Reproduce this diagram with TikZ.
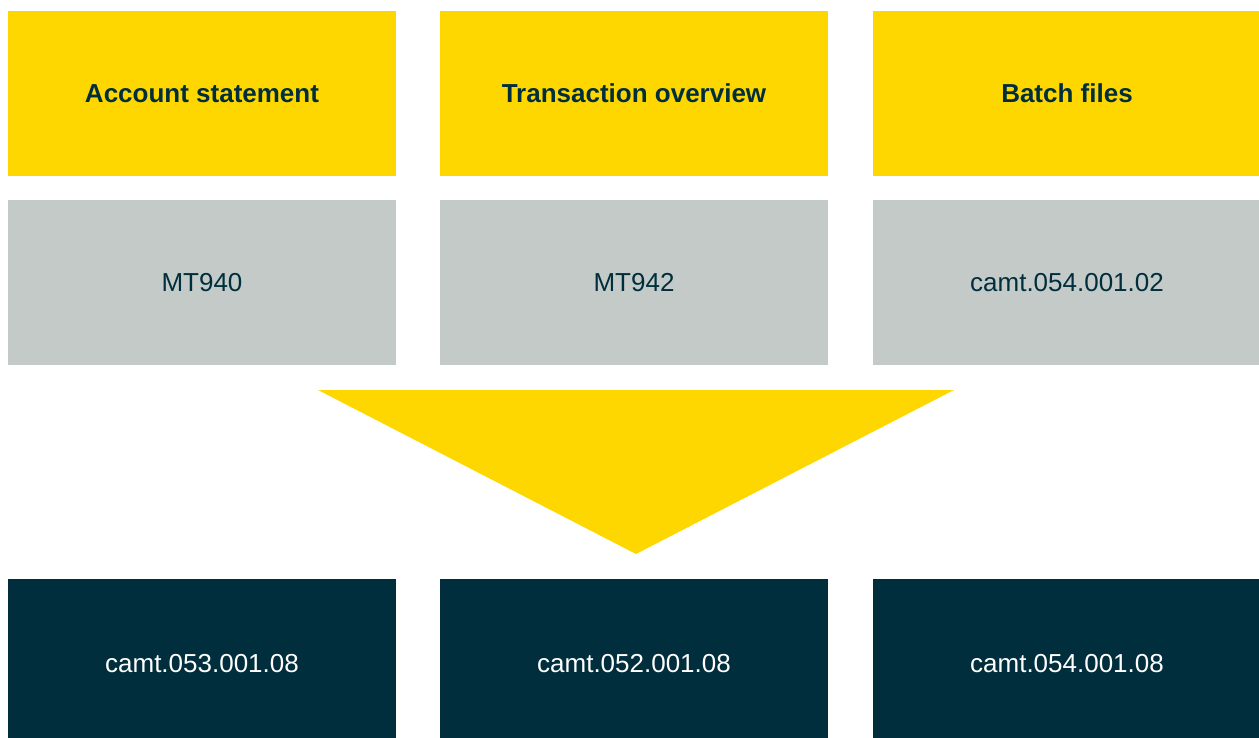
\documentclass[tikz,border=0pt]{standalone}
\usepackage{fontspec}
\setmainfont{Liberation Sans}
\definecolor{ingyellow}{HTML}{FFD700}
\definecolor{inggray}{HTML}{C4CAC8}
\definecolor{ingnavy}{HTML}{002E3D}
\begin{document}
\begin{tikzpicture}[x=1pt,y=-1pt,
  cell/.style={minimum width=388pt,minimum height=165pt,inner sep=0pt,outer sep=0pt,anchor=north west,
    font=\fontsize{26}{30}\selectfont},
  headcell/.style={cell,fill=ingyellow,text=ingnavy,font=\fontsize{26}{30}\selectfont\bfseries},
  oldcell/.style={cell,fill=inggray,text=ingnavy},
  newcell/.style={cell,fill=ingnavy,text=white,minimum height=169pt}]
\useasboundingbox (0,0) rectangle (1259,738);
\node[headcell] (h1) at (8,11) {Account statement};
\node[headcell] (h2) at (440,11) {Transaction overview};
\node[headcell] (h3) at (873,11) {Batch files};
\node[oldcell] (o1) at (8,200) {MT940};
\node[oldcell] (o2) at (440,200) {MT942};
\node[oldcell] (o3) at (873,200) {camt.054.001.02};
\fill[ingyellow] (318,390) -- (954,390) -- (636,554) -- cycle;
\node[newcell] (n1) at (8,579) {camt.053.001.08};
\node[newcell] (n2) at (440,579) {camt.052.001.08};
\node[newcell] (n3) at (873,579) {camt.054.001.08};
\end{tikzpicture}
\end{document}
